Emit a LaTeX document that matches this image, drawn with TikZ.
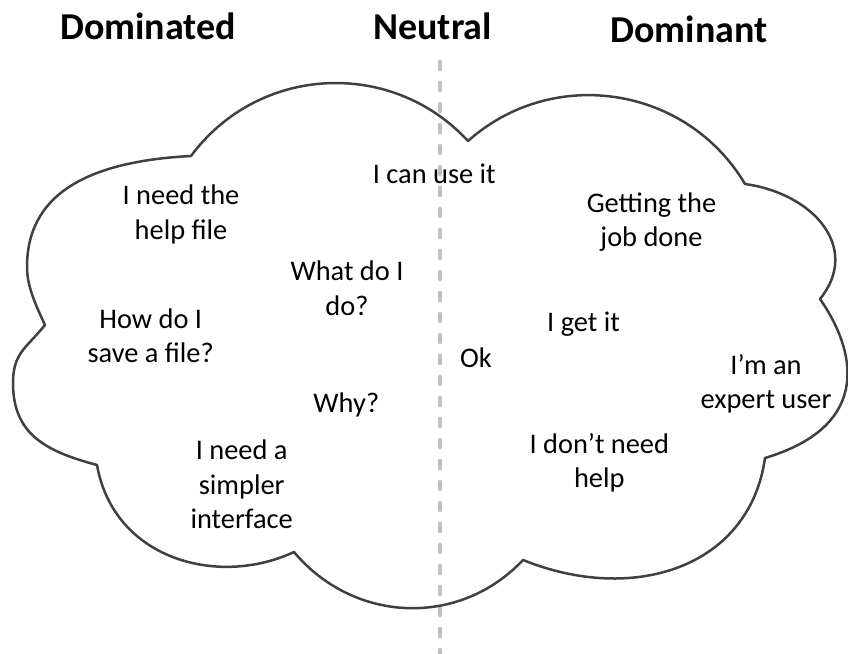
\documentclass[tikz,border=0pt]{standalone}
\usepackage{fontspec}
\setmainfont{Carlito}
\definecolor{cloudgray}{HTML}{404040}
\definecolor{dividergray}{HTML}{BFBFBF}

\begin{document}
\begin{tikzpicture}[x=1pt, y=1pt,
    heading/.style={font=\bfseries\fontsize{38}{46}\selectfont, anchor=base, inner sep=0pt},
    thought/.style={font=\fontsize{28.4}{34.3}\selectfont, align=center, inner sep=0pt},
    cloudline/.style={draw=cloudgray, line width=2.5pt, line join=round},
    divider/.style={draw=dividergray, line width=4.5pt, line cap=round, dash pattern=on 7pt off 14pt}
]
\useasboundingbox (0,0) rectangle (848,653);

\coordinate (cuspA) at (191,497);
\coordinate (cuspB) at (468,512);
\coordinate (cuspC) at (745,469);
\coordinate (cuspD) at (820,354);
\coordinate (cuspE) at (765,195);
\coordinate (cuspF) at (523,93);
\coordinate (cuspG) at (294,101);
\coordinate (cuspH) at (97,188);
\coordinate (leftlow) at (13,270);
\coordinate (cuspI) at (45,328);
\coordinate (leftup) at (27,386);
\coordinate (divtop) at (440,591);
\coordinate (divbot) at (440,0);

\draw[divider] (divtop) -- (divbot);

\draw[cloudline] (cuspA)
  to[out=53.5, in=132.7, distance=113pt] (cuspB)
  to[out=41.7, in=120.7, distance=114pt] (cuspC)
  to[out=-8, in=51, out distance=70pt, in distance=65pt] (cuspD)
  to[out=-55, in=16.7, out distance=60pt, in distance=115pt] (cuspE)
  to[out=262, in=-22, out distance=110pt, in distance=120pt] (cuspF)
  to[out=226.7, in=310, distance=93pt] (cuspG)
  to[out=205, in=280, out distance=85pt, in distance=95pt] (cuspH)
  to[out=165, in=270, distance=52pt] (leftlow)
  to[out=90, in=231, distance=30pt] (cuspI)
  to[out=115, in=270, distance=20pt] (leftup)
  to[out=90, in=183, out distance=72pt, in distance=105pt] (cuspA) -- cycle;

\node[heading] (dominated) at (148,613.7) {Dominated};
\node[heading] (neutral) at (432.5,613.7) {Neutral};
\node[heading] (dominant) at (689,610.3) {Dominant};

\node[thought] (helpfile) at (181,438.5) {I need the\\help file};
\node[thought] (jobdone) at (651.5,431) {Getting the\\job done};
\node[thought] (whatdo) at (347,364.7) {What do I\\do?};
\node[thought] (savefile) at (150.7,317) {How do I\\save a file?};
\node[thought, anchor=base] (canuse) at (434.3,469) {I can use it};
\node[thought, anchor=base] (getit) at (583.5,321.3) {I get it};
\node[thought, anchor=base] (ok) at (476,285.7) {Ok};
\node[thought] (expert) at (766,269.3) {I’m an\\expert user};
\node[thought, anchor=base] (why) at (346.3,240.3) {Why?};
\node[thought] (simpler) at (241.7,168.7) {I need a\\simpler\\interface};
\node[thought] (dontneed) at (599.3,190) {I don’t need\\help};

\end{tikzpicture}
\end{document}
